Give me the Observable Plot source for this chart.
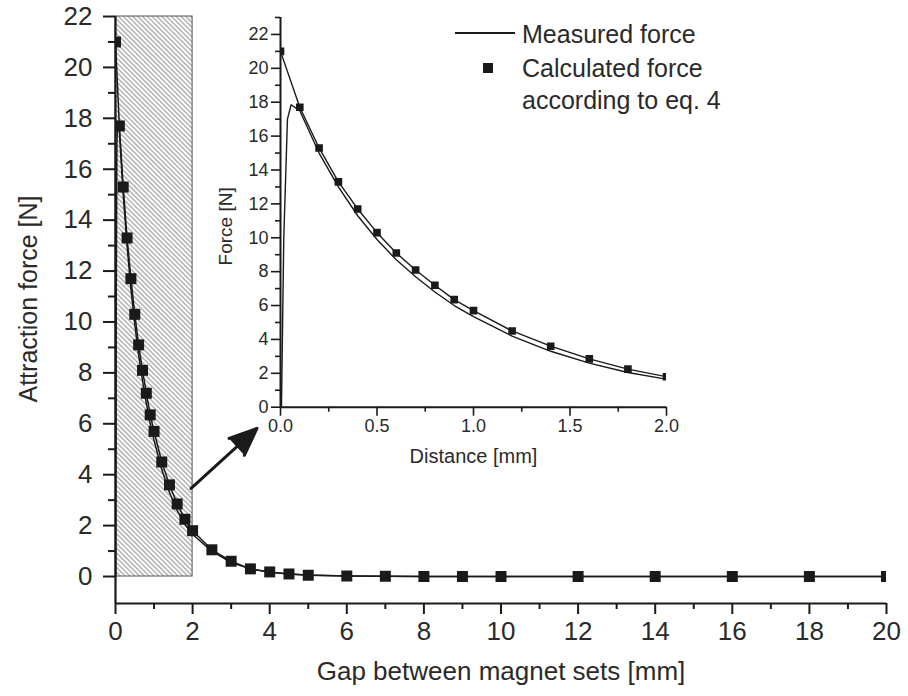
<!DOCTYPE html>
<html><head><meta charset="utf-8">
<script src="https://cdn.jsdelivr.net/npm/d3@7"></script>
<script src="https://cdn.jsdelivr.net/npm/@observablehq/plot@0.6"></script>
<style>
body{margin:0;background:#fff;}
#wrap{position:relative;width:908px;height:696px;overflow:hidden;font-family:"Liberation Sans",Arial,sans-serif;}
#wrap > svg{position:absolute;}
</style></head><body><div id="wrap"></div>
<script>
// ---- data ----
// measured force (main chart, gap in mm -> force in N)
const measuredGap   = [0.005, 0.017, 0.036, 0.055, 0.1, 0.2, 0.3, 0.4, 0.5, 0.6, 0.7, 0.8, 0.9, 1.0, 1.2, 1.4, 1.6, 1.8, 2.0, 2.5, 3.0, 3.5, 4.0, 4.5, 5.0, 6.0, 7.0, 8.0, 9.0, 10.0, 12.0, 14.0, 16.0, 18.0, 20.0];
const measuredForce = [0,     10,    17,    17.85, 17.5, 15.0, 13.0, 11.3, 9.9, 8.7, 7.7, 6.8, 6.0, 5.35, 4.2, 3.3, 2.6, 2.05, 1.65, 1.0, 0.55, 0.3, 0.17, 0.1, 0.06, 0.02, 0.01, 0, 0, 0, 0, 0, 0, 0, 0];
// calculated force according to eq. 4
const calcGap   = [0, 0.1, 0.2, 0.3, 0.4, 0.5, 0.6, 0.7, 0.8, 0.9, 1.0, 1.2, 1.4, 1.6, 1.8, 2.0, 2.5, 3.0, 3.5, 4.0, 4.5, 5.0, 6.0, 7.0, 8.0, 9.0, 10.0, 12.0, 14.0, 16.0, 18.0, 20.0];
const calcForce = [21.0, 17.7, 15.3, 13.3, 11.7, 10.3, 9.1, 8.1, 7.2, 6.35, 5.7, 4.5, 3.6, 2.85, 2.25, 1.8, 1.05, 0.6, 0.3, 0.18, 0.1, 0.05, 0.02, 0.01, 0, 0, 0, 0, 0, 0, 0, 0];
// zoomed region shown in the inset
const zoomGap = [0, 2];
const zoomForce = [0, 22];
// arrow annotation from hatched region to the inset (main-chart units)
const arrowFrom = [1.96, 3.46];
const arrowTo   = [3.67, 5.82];
// axis ticks
const mainXMajor = [0, 2, 4, 6, 8, 10, 12, 14, 16, 18, 20];
const mainXMinor = [1, 3, 5, 7, 9, 11, 13, 15, 17, 19];
const mainYMajor = [0, 2, 4, 6, 8, 10, 12, 14, 16, 18, 20, 22];
const mainYMinor = [1, 3, 5, 7, 9, 11, 13, 15, 17, 19, 21];
const insetXMajor = [0, 0.5, 1.0, 1.5, 2.0];
const insetXMinor = [0.25, 0.75, 1.25, 1.75];
const insetYMajor = [0, 2, 4, 6, 8, 10, 12, 14, 16, 18, 20, 22];
const insetYMinor = [1, 3, 5, 7, 9, 11, 13, 15, 17, 19, 21, 23];
const legendLabels = ["Measured force", "Calculated force", "according to eq. 4"];

const measured = measuredGap.map((g, i) => ({gap: g, force: measuredForce[i]}));
const calc = calcGap.map((g, i) => ({gap: g, force: calcForce[i]}));
const insetMeasured = measured.filter(d => d.gap <= 2.0001);
const insetCalc = calc.filter(d => d.gap <= 2.0001);

const FONT = "Liberation Sans, Arial, sans-serif";
const INK = "#1a1a1a";
const TXT = "#2a2a2a";
const wrap = document.getElementById("wrap");

// ---- main chart ----
const yMin = -1.06;
const main = Plot.plot({
  width: 908, height: 696,
  marginLeft: 115, marginRight: 22, marginTop: 16, marginBottom: 93,
  style: {fontFamily: FONT, fontSize: "26px", color: TXT, background: "transparent", overflow: "visible"},
  x: {domain: [0, 20]},
  y: {domain: [yMin, 22]},
  marks: [
    Plot.rect([0], {x1: () => zoomGap[0], x2: () => zoomGap[1], y1: () => zoomForce[0], y2: () => zoomForce[1],
      fill: "url(#hatch)", stroke: "#555", strokeWidth: 1}),
    Plot.axisX({ticks: mainXMinor, tickSize: 6, text: null, label: null, strokeWidth: 2, stroke: INK}),
    Plot.axisX({ticks: mainXMajor, tickSize: 11, tickPadding: 7, tickFormat: d => d, label: null, strokeWidth: 2, stroke: INK}),
    Plot.axisY({ticks: mainYMinor, tickSize: 7, text: null, label: null, strokeWidth: 2, stroke: INK}),
    Plot.axisY({ticks: mainYMajor, tickSize: 12, tickPadding: 11, tickFormat: d => d, label: null, strokeWidth: 2, stroke: INK}),
    Plot.ruleX([0], {y1: yMin, y2: 22, strokeWidth: 2.2, stroke: INK}),
    Plot.ruleY([yMin], {x1: 0, x2: 20, strokeWidth: 2.2, stroke: INK}),
    Plot.line(measured, {x: "gap", y: "force", stroke: INK, strokeWidth: 1.5, clip: true}),
    Plot.line(calc, {x: "gap", y: "force", stroke: INK, strokeWidth: 1.5, clip: true}),
    Plot.dot(calc, {x: "gap", y: "force", symbol: "square", r: 6.2, fill: INK, stroke: "none", clip: true}),
    Plot.arrow([0], {x1: () => arrowFrom[0], y1: () => arrowFrom[1], x2: () => arrowTo[0], y2: () => arrowTo[1],
      stroke: INK, fill: INK, strokeWidth: 3, headLength: 16, headAngle: 45, strokeLinejoin: "miter"}),
    Plot.text(["Attraction force [N]"], {frameAnchor: "left", textAnchor: "middle", dx: -87, dy: -11, rotate: -90, fontSize: 25, fill: TXT}),
    Plot.text(["Gap between magnet sets [mm]"], {frameAnchor: "bottom", textAnchor: "middle", dx: 0, dy: 76, fontSize: 26, fill: TXT})
  ]
});
main.style.left = "0px"; main.style.top = "0px";
const defs = d3.select(main).insert("defs", ":first-child");
const pat = defs.append("pattern").attr("id", "hatch").attr("patternUnits", "userSpaceOnUse")
  .attr("width", 3.4).attr("height", 3.4).attr("patternTransform", "rotate(-45)");
pat.append("rect").attr("width", 3.4).attr("height", 3.4).attr("fill", "#ffffff");
pat.append("line").attr("x1", 0.8).attr("y1", 0).attr("x2", 0.8).attr("y2", 3.4).attr("stroke", "#8a8a8a").attr("stroke-width", 1.0);
wrap.appendChild(main);

// ---- inset chart ----
const inset = Plot.plot({
  width: 500, height: 480,
  marginLeft: 80, marginRight: 34, marginTop: 17, marginBottom: 73.3,
  style: {fontFamily: FONT, fontSize: "18px", color: TXT, background: "transparent", overflow: "visible"},
  x: {domain: [0, 2]},
  y: {domain: [0, 23]},
  marks: [
    Plot.axisX({ticks: insetXMinor, tickSize: 5, text: null, label: null, strokeWidth: 1.6, stroke: INK}),
    Plot.axisX({ticks: insetXMajor, tickSize: 9, tickPadding: 3, tickFormat: d3.format(".1f"), label: null, strokeWidth: 1.6, stroke: INK}),
    Plot.axisY({ticks: insetYMinor, tickSize: 5, text: null, label: null, strokeWidth: 1.6, stroke: INK}),
    Plot.axisY({ticks: insetYMajor, tickSize: 9, tickPadding: 3, tickFormat: d => d, label: null, strokeWidth: 1.6, stroke: INK}),
    Plot.ruleX([0], {y1: 0, y2: 23, strokeWidth: 2, stroke: INK}),
    Plot.ruleY([0], {x1: 0, x2: 2, strokeWidth: 2, stroke: INK}),
    Plot.line(insetMeasured, {x: "gap", y: "force", stroke: INK, strokeWidth: 1.4, clip: true}),
    Plot.line(insetCalc, {x: "gap", y: "force", stroke: INK, strokeWidth: 1.4, clip: true}),
    Plot.dot(insetCalc, {x: "gap", y: "force", symbol: "square", r: 4.3, fill: INK, stroke: "none", clip: true}),
    Plot.text(["Force [N]"], {frameAnchor: "left", textAnchor: "middle", dx: -55, dy: 14, rotate: -90, fontSize: 19, fill: TXT}),
    Plot.text(["Distance [mm]"], {frameAnchor: "bottom", textAnchor: "middle", dx: 0, dy: 56, fontSize: 20, fill: TXT})
  ]
});
inset.style.left = "200px"; inset.style.top = "0px";
wrap.appendChild(inset);

// ---- legend ----
const leg = d3.select(wrap).append("svg").attr("width", 320).attr("height", 120)
  .style("left", "440px").style("top", "0px")
  .style("font-family", FONT).style("font-size", "25px").style("fill", TXT);
leg.append("line").attr("x1", 15).attr("x2", 75).attr("y1", 33).attr("y2", 33).attr("stroke", INK).attr("stroke-width", 2.2);
leg.append("rect").attr("x", 43).attr("y", 63).attr("width", 10).attr("height", 10).attr("fill", INK);
leg.selectAll("text.l").data(legendLabels).join("text")
  .attr("x", 82).attr("y", (d, i) => [34, 68, 100][i]).attr("dy", "0.35em").text(d => d);
</script>
</body></html>
